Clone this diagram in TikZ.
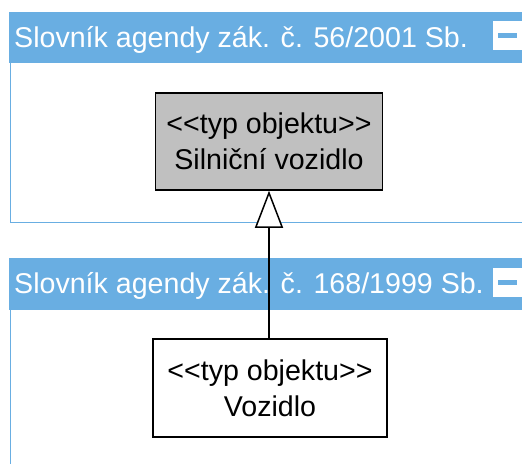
\documentclass[tikz,border=0pt]{standalone}
\usepackage{fontspec}
\newfontfamily\umlfont{Liberation Sans}
\usetikzlibrary{arrows.meta}
\definecolor{pkgblue}{HTML}{69AEE2}
\definecolor{boxgray}{HTML}{C0C0C0}
\tikzset{
  pkgtitle/.style={anchor=base west, text=white, inner sep=0pt,
    font=\umlfont\fontsize{28.6}{34}\selectfont},
  minusbox/.style={fill=white, minimum width=29pt, minimum height=29pt, inner sep=0pt},
  classbox/.style={draw=black, line width=1.5pt, align=center, inner sep=0pt,
    font=\umlfont\fontsize{28.6}{36}\selectfont},
  generalize/.style={-{Triangle[open, length=37pt, width=28pt, fill=white]}, line width=1.5pt},
}
\begin{document}
\begin{tikzpicture}[x=1pt,y=-1pt]
  \useasboundingbox (0,0) rectangle (522,464);
  % upper package
  \fill[pkgblue] (9,12) rectangle (522,63);
  \draw[pkgblue, line width=1.5pt] (10.5,63) -- (10.5,222.5) -- (522,222.5);
  \node[pkgtitle] (pkg1) at (14,47) {Slovník agendy zák. č. 56/2001 Sb.};
  \node[minusbox] (minus1) at (507.5,35) {};
  \fill[pkgblue] (498,32.5) rectangle (517,37.5);
  % lower package
  \fill[pkgblue] (9,258) rectangle (522,310);
  \draw[pkgblue, line width=1.5pt] (10.5,310) -- (10.5,464);
  \node[pkgtitle] (pkg2) at (14,293) {Slovník agendy zák. č. 168/1999 Sb.};
  \node[minusbox] (minus2) at (507.5,282.5) {};
  \fill[pkgblue] (498,280) rectangle (517,285);

  \node[classbox, fill=boxgray, minimum width=227pt, minimum height=97pt] (silnicni) at (269,141.5)
    {<<typ objektu>>\\Silniční vozidlo};
  \node[classbox, fill=white, minimum width=234pt, minimum height=98pt] (vozidlo) at (270,388)
    {<<typ objektu>>\\Vozidlo};

  \draw[generalize] (vozidlo.north -| silnicni.south) -- (silnicni.south);
\end{tikzpicture}
\end{document}
